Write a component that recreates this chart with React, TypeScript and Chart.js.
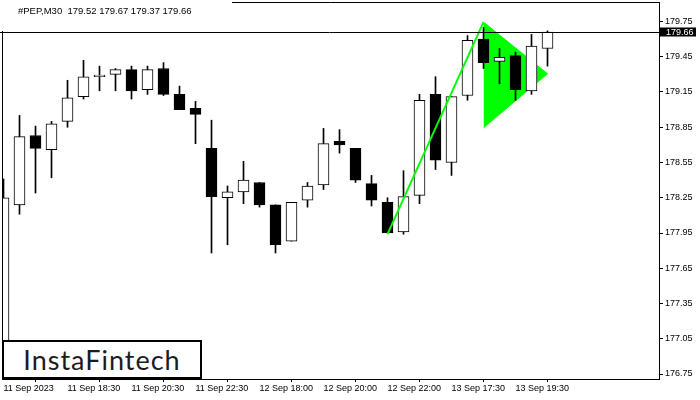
import React, { useEffect, useRef } from "react";
import { Chart, registerables } from "chart.js";

Chart.register(...registerables);

const symbolTitle = "#PEP,M30  179.52 179.67 179.37 179.66";
const logoText = "InstaFintech";
const xTickIndex = [0, 4, 8, 12, 16, 20, 24, 28, 32];
const xTickLabels = [
  "11 Sep 2023",
  "11 Sep 18:30",
  "11 Sep 20:30",
  "11 Sep 22:30",
  "12 Sep 18:00",
  "12 Sep 20:00",
  "12 Sep 22:00",
  "13 Sep 17:30",
  "13 Sep 19:30",
];
const yTickValues = [176.75, 177.05, 177.35, 177.65, 177.95, 178.25, 178.55, 178.85, 179.15, 179.45, 179.75];

const opens = [176.95, 178.19, 178.78, 178.66, 178.9, 179.11, 179.28, 179.3, 179.34, 179.17, 179.35, 179.13, 179.01, 178.67, 178.25, 178.3, 178.38, 178.19, 177.88, 178.23, 178.36, 178.73, 178.67, 178.37, 178.21, 177.96, 178.27, 179.13, 178.55, 179.12, 179.6, 179.41, 179.46, 179.16, 179.52];
const highs = [178.41, 178.95, 178.86, 178.9, 179.25, 179.42, 179.37, 179.35, 179.37, 179.37, 179.4, 179.2, 179.07, 178.91, 178.35, 178.56, 178.38, 178.19, 178.21, 178.38, 178.84, 178.83, 178.67, 178.44, 178.25, 178.48, 179.13, 179.28, 179.11, 179.63, 179.7, 179.52, 179.49, 179.64, 179.67];
const lows = [176.9, 178.11, 178.29, 178.42, 178.85, 179.09, 179.16, 179.16, 179.09, 179.13, 179.12, 179.0, 178.71, 177.78, 177.85, 178.2, 178.17, 177.78, 177.88, 178.17, 178.32, 178.63, 178.38, 178.18, 177.95, 177.94, 178.2, 178.49, 178.44, 179.08, 179.35, 179.22, 179.08, 179.13, 179.37];
const closes = [178.25, 178.77, 178.67, 178.88, 179.1, 179.28, 179.295, 179.34, 179.16, 179.34, 179.13, 179.0, 178.96, 178.26, 178.3, 178.4, 178.19, 177.85, 178.21, 178.35, 178.71, 178.7, 178.4, 178.23, 177.95, 178.26, 179.08, 178.57, 179.11, 179.59, 179.4, 179.445, 179.17, 179.54, 179.66];

const lastPrice = 179.66;
const poleX = [24, 30];
const poleY = [177.94, 179.745];
const pennantX = [30, 34];
const pennantUpper = [179.745, 179.305];
const pennantLower = [178.845, 179.305];

const AXIS_FONT = { family: '"Liberation Sans", Arial, sans-serif', size: 9 };

const framePlugin = {
  id: "mtframe",
  afterDraw(chart: any) {
    const { ctx, chartArea: a, scales } = chart;
    ctx.save();
    ctx.strokeStyle = "#000";
    ctx.lineWidth = 1;
    ctx.beginPath();
    ctx.moveTo(a.left + 0.5, a.bottom);
    ctx.lineTo(a.left + 0.5, a.top + 0.5);
    ctx.lineTo(a.right, a.top + 0.5);
    ctx.stroke();
    // header
    ctx.fillStyle = "#fff";
    ctx.fillRect(0, 0, 232, 31);
    ctx.fillStyle = "#000";
    ctx.font = '9.5px "Liberation Sans", Arial, sans-serif';
    ctx.textBaseline = "middle";
    ctx.textAlign = "left";
    ctx.fillText(symbolTitle, 18, 11);
    // price line
    const py = Math.round(scales.y.getPixelForValue(lastPrice)) + 0.5;
    ctx.beginPath();
    ctx.moveTo(0, py);
    ctx.lineTo(a.right, py);
    ctx.stroke();
    ctx.fillStyle = "#000";
    ctx.fillRect(a.right + 1, py - 5, 36, 9);
    ctx.fillStyle = "#fff";
    ctx.font = '9px "Liberation Sans", Arial, sans-serif';
    ctx.fillText(lastPrice.toFixed(2), 666, py);
    ctx.restore();
  },
};

export default function App() {
  const ref = useRef<HTMLCanvasElement | null>(null);
  useEffect(() => {
    if (!ref.current) return;
    const idx = opens.map((_, i) => i);
    const bodyColors = opens.map((o, i) => (closes[i] >= o ? "#ffffff" : "#000000"));
    const chart = new Chart(ref.current, {
      type: "bar",
      data: {
        datasets: [
          {
            type: "line",
            data: pennantX.map((x, i) => ({ x, y: pennantUpper[i] })),
            borderColor: "#00ff00",
            borderWidth: 1,
            pointRadius: 0,
            fill: false,
            order: 5,
          } as any,
          {
            type: "line",
            data: pennantX.map((x, i) => ({ x, y: pennantLower[i] })),
            borderColor: "#00ff00",
            backgroundColor: "#00ff00",
            borderWidth: 1,
            pointRadius: 0,
            fill: 0,
            order: 4,
          } as any,
          {
            type: "bar",
            data: idx.map((i) => ({ x: i, y: [lows[i], highs[i]] })),
            backgroundColor: "#000000",
            borderWidth: 0,
            barThickness: 1,
            grouped: false,
            order: 3,
          } as any,
          {
            type: "bar",
            data: idx.map((i) => ({ x: i, y: [opens[i], closes[i]] })),
            backgroundColor: bodyColors,
            borderColor: "#000000",
            borderWidth: 1,
            borderSkipped: false,
            barThickness: 11,
            grouped: false,
            order: 2,
          } as any,
          {
            type: "line",
            data: poleX.map((x, i) => ({ x, y: poleY[i] })),
            borderColor: "#00ff00",
            borderWidth: 2,
            pointRadius: 0,
            fill: false,
            order: 1,
          } as any,
        ],
      },
      options: {
        responsive: false,
        animation: false,
        events: [],
        layout: { padding: { left: 2, top: 2, right: 0, bottom: 0 } },
        plugins: {
          legend: { display: false },
          tooltip: { enabled: false },
          filler: { drawTime: "beforeDatasetsDraw" } as any,
        },
        scales: {
          x: {
            type: "linear",
            position: "bottom",
            offset: false,
            min: -1.5 / 16,
            max: -1.5 / 16 + 657 / 16,
            grid: { drawOnChartArea: false, drawTicks: true, tickLength: 3, color: "#000" },
            border: { display: true, color: "#000", width: 1 },
            ticks: {
              autoSkip: false,
              maxRotation: 0,
              minRotation: 0,
              align: "start",
              padding: 1,
              color: "#000",
              font: AXIS_FONT,
              callback: (v: any) => {
                const k = xTickIndex.indexOf(Number(v));
                return k >= 0 ? xTickLabels[k] : "";
              },
            },
            afterBuildTicks: (s: any) => {
              s.ticks = xTickIndex.map((v) => ({ value: v }));
            },
            afterFit: (s: any) => {
              s.height = 21;
              s.paddingLeft = 0;
              s.paddingRight = 0;
            },
          } as any,
          y: {
            type: "linear",
            position: "right",
            min: 179.75 - (377 - 19.5) / 117.5,
            max: 179.75 + 19.5 / 117.5,
            grid: { drawOnChartArea: false, drawTicks: true, tickLength: 4, color: "#000" },
            border: { display: true, color: "#000", width: 1 },
            ticks: {
              padding: 2,
              color: "#000",
              font: AXIS_FONT,
              callback: (v: any) => Number(v).toFixed(2),
            },
            afterBuildTicks: (s: any) => {
              s.ticks = yTickValues.map((v) => ({ value: v }));
            },
            afterFit: (s: any) => {
              s.width = 41;
              s.paddingTop = 0;
              s.paddingBottom = 0;
            },
          } as any,
        },
      },
      plugins: [framePlugin],
    });
    return () => chart.destroy();
  }, []);

  return (
    <div style={{ position: "absolute", left: 0, top: 0, width: 700, height: 400, background: "#fff" }}>
      <canvas ref={ref} width={700} height={400} style={{ display: "block", width: 700, height: 400 }} />
      <div
        style={{
          position: "absolute",
          left: 2,
          top: 340,
          width: 200,
          height: 39,
          boxSizing: "border-box",
          border: "2px solid #000",
          background: "#fff",
          display: "flex",
          alignItems: "center",
          justifyContent: "center",
          fontFamily: "Lato, 'Open Sans', sans-serif",
          fontSize: 27,
          letterSpacing: 1,
          color: "#1c1c1c",
          lineHeight: 1,
        }}
      >
        {logoText}
      </div>
    </div>
  );
}
